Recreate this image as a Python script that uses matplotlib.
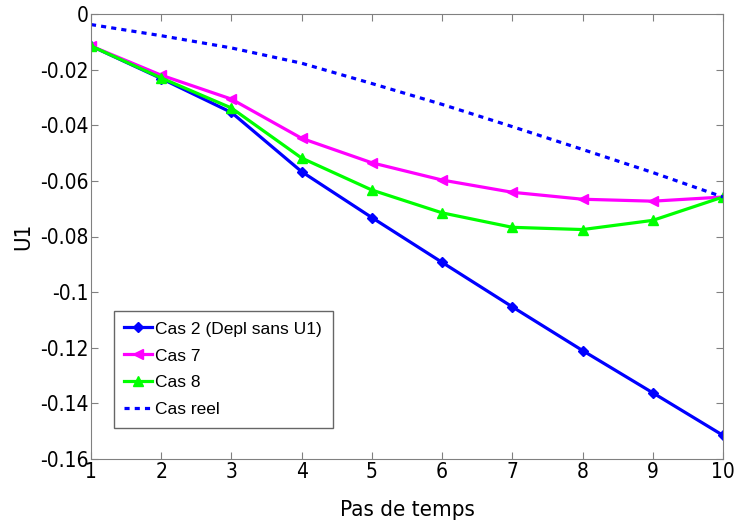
import numpy as np
import matplotlib
matplotlib.use("Agg")
import matplotlib.pyplot as plt

steps = np.arange(1, 11)
cas2 = [-0.0115, -0.0232, -0.0354, -0.0567, -0.0732, -0.0893, -0.1053, -0.1210, -0.1362, -0.1515]
cas7 = [-0.0115, -0.0220, -0.0306, -0.0447, -0.0535, -0.0597, -0.0641, -0.0666, -0.0673, -0.0658]
cas8 = [-0.0115, -0.0230, -0.0338, -0.0518, -0.0633, -0.0715, -0.0767, -0.0775, -0.0742, -0.0658]
reel = [-0.0038, -0.0078, -0.0122, -0.0177, -0.0250, -0.0325, -0.0405, -0.0487, -0.0570, -0.0658]

xticks = list(range(1, 11))
yticks = [0, -0.02, -0.04, -0.06, -0.08, -0.1, -0.12, -0.14, -0.16]
yticklabels = ["0", "-0.02", "-0.04", "-0.06", "-0.08", "-0.1", "-0.12", "-0.14", "-0.16"]

# condensed DejaVu for axes text, like the original export
plt.rcParams["font.family"] = "DejaVu Sans"
plt.rcParams["font.stretch"] = "condensed"

fig = plt.figure(figsize=(7.34, 5.23), dpi=100)
ax = fig.add_axes([91 / 734, 64 / 523, 632 / 734, 445 / 523])

ax.plot(steps, cas2, color="#0000ff", lw=2.3, marker="D", ms=5, label="Cas 2 (Depl sans U1)")
ax.plot(steps, cas7, color="#ff00ff", lw=2.3, marker="<", ms=7, label="Cas 7")
ax.plot(steps, cas8, color="#00ff00", lw=2.3, marker="^", ms=7, label="Cas 8")
ax.plot(steps, reel, color="#0000ff", lw=2.3, ls=(0, (1.6, 1.6)), label="Cas reel")

ax.set_xlim(1, 10)
ax.set_ylim(-0.16, 0)
ax.set_xticks(xticks)
ax.set_yticks(yticks)
ax.set_yticklabels(yticklabels)
ax.tick_params(direction="in", color="#808080", labelsize=15, length=5, pad=2,
               top=True, right=True)
for sp in ax.spines.values():
    sp.set_color("#808080")
ax.set_xlabel("Pas de temps", fontsize=16, labelpad=13)
ax.set_ylabel("U1", fontsize=16, labelpad=5)

leg = ax.legend(loc="lower left", bbox_to_anchor=(0.036, 0.07), fancybox=False,
                prop={"family": "Liberation Sans", "size": 12.5, "stretch": "normal"},
                handlelength=1.6, handletextpad=0.2, borderpad=0.6,
                labelspacing=0.68, borderaxespad=0)
leg.get_frame().set_edgecolor("#404040")
leg.get_frame().set_linewidth(1.0)

fig.savefig("out.png", dpi=100)
